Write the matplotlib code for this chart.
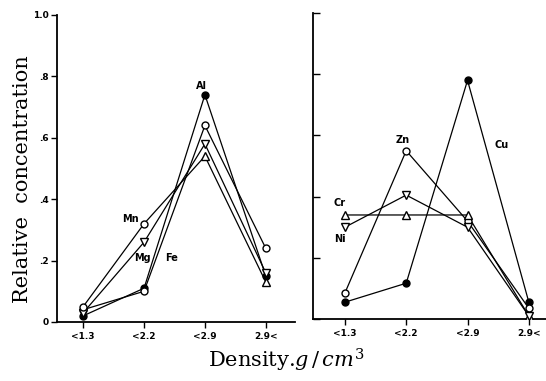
import matplotlib
matplotlib.use('Agg')
import matplotlib.pyplot as plt

categories = ['<1.3', '<2.2', '<2.9', '2.9<']
ytick_vals = [0, 0.2, 0.4, 0.6, 0.8, 1.0]
ytick_labels = ['0', '.2', '.4', '.6', '.8', '1.0']

# left panel
al = [0.02, 0.11, 0.74, 0.15]
fe = [0.04, 0.10, 0.64, 0.24]
mg = [0.03, 0.26, 0.58, 0.16]
mn = [0.05, 0.32, 0.54, 0.13]

# right panel
cu = [0.055, 0.117, 0.78, 0.055]
zn = [0.085, 0.55, 0.32, 0.035]
cr = [0.34, 0.34, 0.34, 0.01]
ni = [0.30, 0.405, 0.30, 0.01]

left_series = [
    (al, ['o', 'o', 'o', 'o'], 'black'),
    (fe, ['o', 'o', 'o', 'o'], 'white'),
    (mg, ['v', 'v', 'v', 'v'], 'white'),
    (mn, ['o', 'o', '^', '^'], 'white'),
]
right_series = [
    (cu, ['o', 'o', 'o', 'o'], 'black'),
    (zn, ['o', 'o', 'o', 'o'], 'white'),
    (cr, ['^', '^', '^', '^'], 'white'),
    (ni, ['v', 'v', 'v', 'v'], 'white'),
]

plt.rcParams['mathtext.fontset'] = 'dejavuserif'

fig = plt.figure(figsize=(5.46, 3.81), dpi=100)
axl = fig.add_axes([0.1044, 0.1549, 0.4359, 0.8058])
axr = fig.add_axes([0.5733, 0.1627, 0.4267, 0.8031])

xs = range(len(categories))


def draw(ax, series):
    for vals, markers, face in series:
        ax.plot(xs, vals, color='black', lw=0.9, zorder=2)
        for x, v, m in zip(xs, vals, markers):
            ax.plot(x, v, marker=m, ms=5 if m == 'o' else 5.5,
                    mfc=face, mec='black', mew=1.0, zorder=3)
    ax.set_ylim(0, 1.0)
    ax.set_xticks(list(xs))
    ax.set_xticklabels(categories, fontsize=6.5, fontweight='bold')
    ax.tick_params(axis='x', direction='out', length=4, width=1, pad=3)
    for s in ['top', 'right']:
        ax.spines[s].set_visible(False)
    for s in ['left', 'bottom']:
        ax.spines[s].set_linewidth(1.3)


draw(axl, left_series)
draw(axr, right_series)

axl.set_xlim(-0.43, 3.48)
axr.set_xlim(-0.52, 3.28)

axl.set_yticks(ytick_vals)
axl.set_yticklabels(ytick_labels, fontsize=6.5, fontweight='bold')
axl.tick_params(axis='y', direction='out', length=4, width=1, pad=2)
axr.set_yticks(ytick_vals)
axr.set_yticklabels([])
axr.tick_params(axis='y', direction='in', length=5, width=1)

lab = dict(fontsize=7, fontweight='bold', ha='center', va='center')
axl.text(1.95, 0.77, 'Al', **lab)
axl.text(0.77, 0.335, 'Mn', **lab)
axl.text(0.98, 0.21, 'Mg', **lab)
axl.text(1.46, 0.21, 'Fe', **lab)
axr.text(0.95, 0.585, 'Zn', **lab)
axr.text(2.55, 0.57, 'Cu', **lab)
axr.text(-0.08, 0.38, 'Cr', **lab)
axr.text(-0.08, 0.26, 'Ni', **lab)

fig.text(0.041, 0.53, 'Relative  concentration', rotation=90,
         family='DejaVu Serif', fontsize=15, ha='center', va='center')
fig.text(0.524, 0.035, r'Density.$\mathit{g\,/\,cm}^{3}$',
         family='DejaVu Serif', fontsize=15, ha='center', va='baseline')

fig.savefig('out.png', dpi=100)
